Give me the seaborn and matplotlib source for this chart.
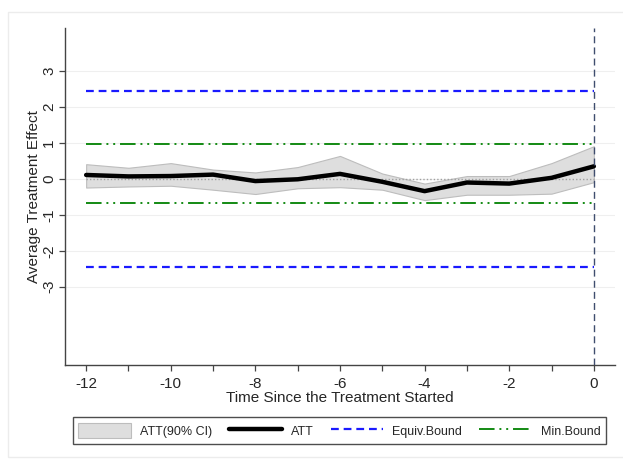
import matplotlib
matplotlib.use('Agg')
import matplotlib.pyplot as plt
import seaborn as sns
import pandas as pd
from matplotlib.patches import Rectangle

# dados
periodos = [-12, -11, -10, -9, -8, -7, -6, -5, -4, -3, -2, -1, 0]
att = [0.11, 0.07, 0.08, 0.12, -0.06, -0.01, 0.14, -0.08, -0.34, -0.10, -0.13, 0.03, 0.35]
ci_sup = [0.41, 0.31, 0.44, 0.26, 0.18, 0.33, 0.64, 0.15, -0.13, 0.08, 0.08, 0.44, 0.91]
ci_inf = [-0.24, -0.21, -0.19, -0.30, -0.42, -0.26, -0.23, -0.30, -0.59, -0.44, -0.44, -0.41, -0.09]
equiv_bound = 2.44
min_bound_sup = 0.96
min_bound_inf = -0.66
yticks = [-3, -2, -1, 0, 1, 2, 3]

df = pd.DataFrame({'t': periodos, 'att': att, 'sup': ci_sup, 'inf': ci_inf})

sns.set_style('white')
plt.rcParams['font.family'] = ['Liberation Sans', 'DejaVu Sans']

fig = plt.figure(figsize=(6.23, 4.59), dpi=100)
ax = fig.add_axes([65 / 623, 1 - 364.7 / 459, 550 / 623, 336.7 / 459])

# moldura externa clara
fig.patches.append(Rectangle((8 / 623, 0.005), 0.99, 1 - 12 / 459 - 0.005, transform=fig.transFigure,
                             fill=False, edgecolor='#ececec', linewidth=1.0, zorder=0))

for yv in yticks:
    ax.axhline(yv, color='#efefef', linewidth=0.8, zorder=0)

ax.fill_between(df['t'], df['inf'], df['sup'], facecolor='#dedede', edgecolor='#bdbdbd',
                linewidth=0.8, zorder=1, label='ATT(90% CI)')
ax.plot([periodos[0], periodos[-1]], [0, 0], color='#a0a0a0', linestyle=(0, (1, 1.5)), linewidth=1.0, zorder=2)
sns.lineplot(data=df, x='t', y='att', ax=ax, color='black', linewidth=3.2, zorder=4, label='ATT')

ax.plot([periodos[0], periodos[-1]], [equiv_bound] * 2, color='#1a1aff', linestyle=(0, (3.5, 2.2)),
        linewidth=1.6, zorder=3, label='Equiv.Bound')
ax.plot([periodos[0], periodos[-1]], [-equiv_bound] * 2, color='#1a1aff', linestyle=(0, (3.5, 2.2)),
        linewidth=1.6, zorder=3)
dashdotdot = (0, (8, 2.5, 1, 2.5, 1, 2.5))
ax.plot([periodos[0], periodos[-1]], [min_bound_sup] * 2, color='#138a13', linestyle=dashdotdot,
        linewidth=1.4, zorder=3, label='Min.Bound')
ax.plot([periodos[0], periodos[-1]], [min_bound_inf] * 2, color='#138a13', linestyle=dashdotdot,
        linewidth=1.4, zorder=3)

ax.axvline(0, color='#3f4d6e', linestyle=(0, (5, 3)), linewidth=1.0, zorder=5)

ax.set_xlim(-12.5, 0.5)
ax.set_ylim(-5.17, 4.2)
ax.set_xticks(periodos)
ax.set_xticklabels([str(p) if p % 2 == 0 else '' for p in periodos])
ax.set_yticks(yticks)
ax.set_yticklabels([str(v) for v in yticks], rotation=90, va='center')
ax.tick_params(axis='both', length=4.5, width=0.9, color='#444444', labelsize=11, direction='out',
               bottom=True, left=True)
ax.tick_params(axis='y', pad=2)
ax.tick_params(axis='x', pad=4)

for s in ['top', 'right']:
    ax.spines[s].set_visible(False)
for s in ['left', 'bottom']:
    ax.spines[s].set_color('#444444')
    ax.spines[s].set_linewidth(1.0)

ax.set_xlabel('Time Since the Treatment Started', fontsize=11, labelpad=0)
ax.set_ylabel('Average Treatment Effect', fontsize=11, labelpad=1)

if ax.get_legend():
    ax.get_legend().remove()
handles, labels = ax.get_legend_handles_labels()
leg = fig.legend(handles, labels, loc='center', bbox_to_anchor=(339.5 / 623, 1 - 430.5 / 459), ncol=4,
                 fontsize=9, frameon=True, fancybox=False, edgecolor='#222222', handlelength=4.2,
                 handleheight=1.5, columnspacing=1.35, handletextpad=0.75, borderpad=0.45)
leg.get_frame().set_linewidth(1.0)

fig.savefig('out.png', dpi=100, facecolor='white')
